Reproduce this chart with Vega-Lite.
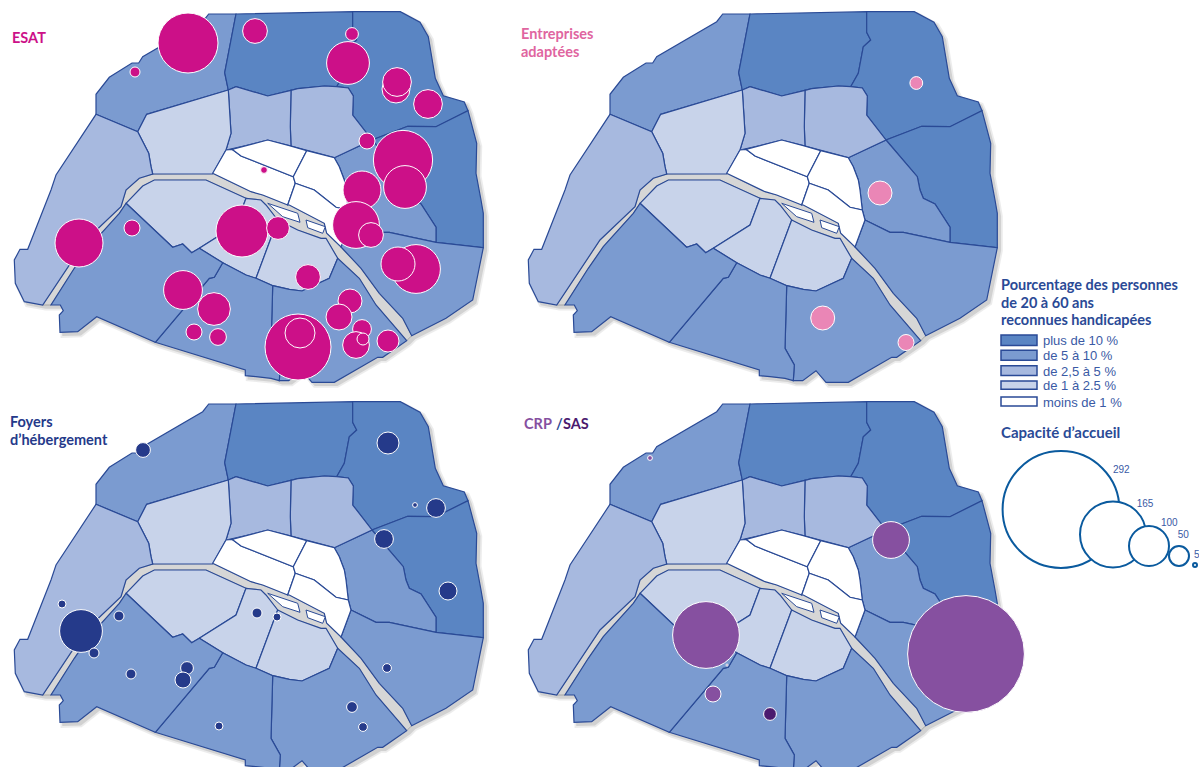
{"$schema":"https://vega.github.io/schema/vega-lite/v6.json","padding":0,"background":"white","config":{"view":{"stroke":null}},"bounds":"flush","spacing":0,"columns":2,
"datasets":{
"ombre":[{"type":"Feature","properties":{"nom":"ombre"},"geometry":{"type":"Polygon","coordinates":[[[211.7,17],[239,17],[355.7,14.7],[403.3,14.7],[423,25.3],[431.3,39.7],[438.3,81.3],[446.3,98.7],[467.3,105],[471,113.7],[479.7,146.3],[479,176.3],[484,203],[486.3,216.3],[486.3,250.7],[475.7,303],[449,321.3],[414.7,338.7],[409.7,343.7],[385.7,360.3],[380.7,360.3],[337.3,385.3],[315,385.3],[305,373.7],[291.7,383.7],[282.3,383.7],[274,381.3],[259,379.7],[248.3,378.7],[248.3,373],[158.3,345.3],[99.7,319.7],[80.7,334.7],[63,335.3],[62.3,318],[66.3,313.7],[63.3,308],[45.7,308],[27.3,304.7],[18.3,286.3],[17.3,263],[23,252.3],[30.7,252.3],[54,193],[59,178],[99,117.3],[99,97.3],[112.3,80.3],[135,66],[141.7,66],[145.7,59.7],[205.7,24.7],[211.7,17]]]}}],
"paris":[
{"type":"Feature","properties":{"arr":"17e","classe":"de 5 à 10 %"},"geometry":{"type":"Polygon","coordinates":[[[208.7,14],[236,14],[224.7,72.7],[228.3,90],[146.7,114.3],[137.7,131.7],[96,114.3],[96,94.3],[109.3,77.3],[132,63],[138.7,63],[142.7,56.7],[202.7,21.7],[208.7,14]]]}},
{"type":"Feature","properties":{"arr":"18e","classe":"plus de 10 %"},"geometry":{"type":"Polygon","coordinates":[[[236,14],[352.7,11.7],[352.7,32.3],[356.7,40],[349.3,46.7],[344.3,73.3],[336.7,86.7],[324.3,86],[297.7,88.7],[291,90.3],[267.7,96],[236,86.7],[228.3,90],[224.7,72.7],[236,14]]]}},
{"type":"Feature","properties":{"arr":"19e","classe":"plus de 10 %"},"geometry":{"type":"Polygon","coordinates":[[[352.7,11.7],[400.3,11.7],[420,22.3],[428.3,36.7],[435.3,78.3],[443.3,95.7],[464.3,102],[468,110.7],[436,126.7],[407.7,126.3],[372,140],[352.7,115],[353.3,96],[348.3,88],[336.7,86.7],[344.3,73.3],[349.3,46.7],[356.7,40],[352.7,32.3],[352.7,11.7]]]}},
{"type":"Feature","properties":{"arr":"20e","classe":"plus de 10 %"},"geometry":{"type":"Polygon","coordinates":[[[468,110.7],[476.7,143.3],[476,173.3],[481,200],[483.3,213.3],[483.3,247.7],[436,242.3],[436,227.3],[421,204],[409.3,198.3],[406,190],[403.3,176.7],[372,140],[407.7,126.3],[436,126.7],[468,110.7]]]}},
{"type":"Feature","properties":{"arr":"11e","classe":"de 5 à 10 %"},"geometry":{"type":"Polygon","coordinates":[[[334.3,157.7],[372,140],[403.3,176.7],[406,190],[409.3,198.3],[421,204],[436,227.3],[436,242.3],[389.3,232.3],[376,232.3],[351,220],[348.3,210],[346,190],[344.3,180],[339.3,166.7],[334.3,157.7]]]}},
{"type":"Feature","properties":{"arr":"12e","classe":"de 5 à 10 %"},"geometry":{"type":"Polygon","coordinates":[[[351,220],[376,232.3],[389.3,232.3],[436,242.3],[483.3,247.7],[472.7,300],[446,318.3],[411.7,335.7],[402.7,318.3],[379.3,293.3],[361,268.3],[341,247],[351,220]]]}},
{"type":"Feature","properties":{"arr":"10e","classe":"de 2,5 à 5 %"},"geometry":{"type":"Polygon","coordinates":[[[291,90.3],[297.7,88.7],[324.3,86],[336.7,86.7],[348.3,88],[353.3,96],[352.7,115],[372,140],[334.3,157.7],[291,146],[290.3,126.7],[291,90.3]]]}},
{"type":"Feature","properties":{"arr":"9e","classe":"de 2,5 à 5 %"},"geometry":{"type":"Polygon","coordinates":[[[228.3,90],[236,86.7],[267.7,96],[291,90.3],[290.3,126.7],[291,146],[267.7,140],[246,145.7],[226,150],[231,133.3],[228.3,90]]]}},
{"type":"Feature","properties":{"arr":"8e","classe":"de 1 à 2,5 %"},"geometry":{"type":"Polygon","coordinates":[[[146.7,114.3],[228.3,90],[231,133.3],[226,150],[212.7,174],[152.7,174],[151,166.7],[148.7,153.3],[137.7,131.7],[146.7,114.3]]]}},
{"type":"Feature","properties":{"arr":"16e","classe":"de 2,5 à 5 %"},"geometry":{"type":"Polygon","coordinates":[[[96,114.3],[137.7,131.7],[148.7,153.3],[151,166.7],[152.7,174],[139.3,178.3],[126,190],[121,206.7],[86,240],[42.7,305],[24.3,301.7],[15.3,283.3],[14.3,260],[20,249.3],[27.7,249.3],[51,190],[56,175],[96,114.3]]]}},
{"type":"Feature","properties":{"arr":"1er","classe":"moins de 1 %"},"geometry":{"type":"Polygon","coordinates":[[[226,150],[232,149.3],[241,156],[293.3,176.7],[295.3,183.3],[287.7,205],[262.7,195],[251,191.7],[212.7,173.3],[226,150]]]}},
{"type":"Feature","properties":{"arr":"2e","classe":"moins de 1 %"},"geometry":{"type":"Polygon","coordinates":[[[232,149.3],[267.7,140],[289.3,145.7],[306.7,150.7],[293.3,176.7],[241,156],[232,149.3]]]}},
{"type":"Feature","properties":{"arr":"3e","classe":"moins de 1 %"},"geometry":{"type":"Polygon","coordinates":[[[306.7,150.7],[334.3,157.7],[339.3,166.7],[344.3,180],[346,190],[348.3,210],[336,207.3],[314.3,190],[295.3,183.3],[293.3,176.7],[306.7,150.7]]]}},
{"type":"Feature","properties":{"arr":"4e","classe":"moins de 1 %"},"geometry":{"type":"Polygon","coordinates":[[[295.3,183.3],[314.3,190],[336,207.3],[348.3,210],[351,220],[341,247],[326.7,233.3],[324.3,223.3],[289.3,205],[287.7,205],[295.3,183.3]]]}},
{"type":"Feature","properties":{"arr":"7e","classe":"de 1 à 2,5 %"},"geometry":{"type":"Polygon","coordinates":[[[126,203.3],[142.7,186],[154.3,180],[206,180],[246,198.3],[236,225],[199.3,248.3],[191.7,252.7],[182.7,244],[172.7,247.3],[126,203.3]]]}},
{"type":"Feature","properties":{"arr":"6e","classe":"de 1 à 2,5 %"},"geometry":{"type":"Polygon","coordinates":[[[246,198.3],[261,200],[266,205],[277.7,220],[256,278.3],[246,275],[222.7,262.7],[199.3,248.3],[236,225],[246,198.3]]]}},
{"type":"Feature","properties":{"arr":"5e","classe":"de 1 à 2,5 %"},"geometry":{"type":"Polygon","coordinates":[[[277.7,220],[297.7,230],[321,238.3],[326,238.3],[337.7,258.3],[329.3,278.3],[302,291],[289.3,289.3],[272.7,285.7],[256,278.3],[277.7,220]]]}},
{"type":"Feature","properties":{"arr":"13e","classe":"de 5 à 10 %"},"geometry":{"type":"Polygon","coordinates":[[[272.7,285.7],[289.3,289.3],[302,291],[329.3,278.3],[337.7,258.3],[359.3,278.3],[376,305],[406.7,340.7],[382.7,357.3],[377.7,357.3],[334.3,382.3],[312,382.3],[302,370.7],[288.7,380.7],[279.3,380.7],[280.3,365],[271,348.3],[272.7,285.7]]]}},
{"type":"Feature","properties":{"arr":"14e","classe":"de 5 à 10 %"},"geometry":{"type":"Polygon","coordinates":[[[222.7,262.7],[246,275],[256,278.3],[272.7,285.7],[271,348.3],[280.3,365],[279.3,380.7],[271,378.3],[256,376.7],[245.3,375.7],[245.3,370],[155.3,342.3],[209.3,278.3],[214.3,277.3],[222.7,262.7]]]}},
{"type":"Feature","properties":{"arr":"15e","classe":"de 5 à 10 %"},"geometry":{"type":"Polygon","coordinates":[[[126,203.3],[172.7,247.3],[182.7,244],[191.7,252.7],[199.3,248.3],[222.7,262.7],[214.3,277.3],[209.3,278.3],[155.3,342.3],[96.7,316.7],[77.7,331.7],[60,332.3],[59.3,315],[63.3,310.7],[60.3,305],[51,305],[74.3,268.3],[89.3,246.7],[119.3,213.3],[126,203.3]]]}}
],
"seine":[{"type":"Feature","properties":{"nom":"Seine"},"geometry":{"type":"Polygon","coordinates":[[[42.7,305],[86,240],[121,206.7],[126,190],[139.3,178.3],[152.7,174],[212.7,173.3],[251,191.7],[262.7,195],[289.3,205],[324.3,223.3],[326.7,233.3],[341,247],[361,268.3],[379.3,293.3],[402.7,318.3],[411.7,335.7],[406.7,340.7],[376,305],[359.3,278.3],[337.7,258.3],[326,238.3],[321,238.3],[297.7,230],[277.7,220],[266,205],[261,200],[246,198.3],[206,180],[154.3,180],[142.7,186],[126,203.3],[119.3,213.3],[89.3,246.7],[74.3,268.3],[51,305],[42.7,305]]]}}],
"iles":[{"type":"Feature","properties":{"nom":"Cité"},"geometry":{"type":"Polygon","coordinates":[[[267.7,203.3],[297.7,213.3],[300,222.3],[282.7,216.7],[267.7,203.3]]]}},{"type":"Feature","properties":{"nom":"Saint-Louis"},"geometry":{"type":"Polygon","coordinates":[[[306,220],[325.3,226.7],[322.7,233.3],[307.7,227.7],[306,220]]]}}],
"legende1":[
{"type":"Feature","properties":{"classe":"plus de 10 %"},"geometry":{"type":"Polygon","coordinates":[[[487,335],[523,335],[523,345.5],[487,345.5],[487,335]]]}},
{"type":"Feature","properties":{"classe":"de 5 à 10 %"},"geometry":{"type":"Polygon","coordinates":[[[487,350.3],[523,350.3],[523,360.3],[487,360.3],[487,350.3]]]}},
{"type":"Feature","properties":{"classe":"de 2,5 à 5 %"},"geometry":{"type":"Polygon","coordinates":[[[487,365.8],[523,365.8],[523,375.5],[487,375.5],[487,365.8]]]}},
{"type":"Feature","properties":{"classe":"de 1 à 2,5 %"},"geometry":{"type":"Polygon","coordinates":[[[487,381],[523,381],[523,389.2],[487,389.2],[487,381]]]}}],
"legende2":[
{"type":"Feature","properties":{"classe":"moins de 1 %"},"geometry":{"type":"Polygon","coordinates":[[[487,7],[523,7],[523,16],[487,16],[487,7]]]}}]
},
"concat":[
{"width":514,"height":390,"layer":[
{"data":{"name":"ombre"},"mark":{"type":"geoshape","fill":"#777","opacity":0.13,"stroke":"#777","strokeWidth":5},"projection":{"type":"identity","scale":1,"translate":[0,0]}},
{"data":{"name":"ombre"},"mark":{"type":"geoshape","fill":"#777","opacity":0.22,"stroke":"#777","strokeWidth":1.5},"projection":{"type":"identity","scale":1,"translate":[0,0]}},
{"data":{"name":"seine"},"mark":{"type":"geoshape","fill":"#d6d6d6","stroke":"#9a9a9a","strokeWidth":0.8},"projection":{"type":"identity","scale":1,"translate":[0,0]}},
{"data":{"name":"paris"},"mark":{"type":"geoshape","stroke":"#2a4a96","strokeWidth":1.2},"projection":{"type":"identity","scale":1,"translate":[0,0]},"encoding":{"color":{"field":"properties.classe","type":"nominal","legend":null,"scale":{"domain":["plus de 10 %","de 5 à 10 %","de 2,5 à 5 %","de 1 à 2,5 %","moins de 1 %"],"range":["#5a85c3","#7b9bd0","#a7b9df","#c8d3ea","#ffffff"]}}}},
{"data":{"name":"iles"},"mark":{"type":"geoshape","fill":"#ffffff","stroke":"#2a4a96","strokeWidth":1},"projection":{"type":"identity","scale":1,"translate":[0,0]}},
{"data":{"values":[{"x":188,"y":43,"capacite":150},{"x":255,"y":31,"capacite":62},{"x":135,"y":72,"capacite":25},{"x":352,"y":34,"capacite":32},{"x":348,"y":63,"capacite":107},{"x":396,"y":89,"capacite":70},{"x":397,"y":82,"capacite":72},{"x":428,"y":104,"capacite":72},{"x":367,"y":141,"capacite":40},{"x":403,"y":160,"capacite":148},{"x":405,"y":187,"capacite":107},{"x":362,"y":190,"capacite":95},{"x":264,"y":170,"capacite":17},{"x":356,"y":225,"capacite":117},{"x":371,"y":235,"capacite":62},{"x":242,"y":231,"capacite":130},{"x":278,"y":228,"capacite":57},{"x":132,"y":228,"capacite":40},{"x":79,"y":243,"capacite":120},{"x":416,"y":269,"capacite":122},{"x":398,"y":264,"capacite":85},{"x":308,"y":277,"capacite":62},{"x":183,"y":290,"capacite":97},{"x":214,"y":309,"capacite":82},{"x":194,"y":332,"capacite":40},{"x":218,"y":337,"capacite":42},{"x":350,"y":301,"capacite":60},{"x":339,"y":317,"capacite":65},{"x":298,"y":347,"capacite":165},{"x":300,"y":333,"capacite":75},{"x":362,"y":329,"capacite":47},{"x":356,"y":345,"capacite":67},{"x":363,"y":339,"capacite":30},{"x":388,"y":341,"capacite":55}]},"mark":{"type":"point","shape":"circle","filled":true,"opacity":1,"fill":"#cc1088","stroke":"#ffffff","strokeWidth":1},"projection":{"type":"identity","scale":1,"translate":[0,0]},"encoding":{"longitude":{"field":"x","type":"quantitative"},"latitude":{"field":"y","type":"quantitative"},"size":{"field":"capacite","type":"quantitative","legend":null,"scale":{"type":"pow","exponent":2,"domain":[0,292],"range":[0,13642]}}}},
{"data":{"values":[{"x":12,"y":43,"t":"ESAT"}]},"mark":{"type":"text","font":"Lato","fontWeight":"bold","fontSize":14.5,"align":"left","baseline":"alphabetic","color":"#cc1088"},"projection":{"type":"identity","scale":1,"translate":[0,0]},"encoding":{"longitude":{"field":"x","type":"quantitative"},"latitude":{"field":"y","type":"quantitative"},"text":{"field":"t"}}}
]},
{"width":685,"height":390,"layer":[
{"data":{"name":"ombre"},"mark":{"type":"geoshape","fill":"#777","opacity":0.13,"stroke":"#777","strokeWidth":5},"projection":{"type":"identity","scale":1,"translate":[0,0]}},
{"data":{"name":"ombre"},"mark":{"type":"geoshape","fill":"#777","opacity":0.22,"stroke":"#777","strokeWidth":1.5},"projection":{"type":"identity","scale":1,"translate":[0,0]}},
{"data":{"name":"seine"},"mark":{"type":"geoshape","fill":"#d6d6d6","stroke":"#9a9a9a","strokeWidth":0.8},"projection":{"type":"identity","scale":1,"translate":[0,0]}},
{"data":{"name":"paris"},"mark":{"type":"geoshape","stroke":"#2a4a96","strokeWidth":1.2},"projection":{"type":"identity","scale":1,"translate":[0,0]},"encoding":{"color":{"field":"properties.classe","type":"nominal","legend":null,"scale":{"domain":["plus de 10 %","de 5 à 10 %","de 2,5 à 5 %","de 1 à 2,5 %","moins de 1 %"],"range":["#5a85c3","#7b9bd0","#a7b9df","#c8d3ea","#ffffff"]}}}},
{"data":{"name":"legende1"},"mark":{"type":"geoshape","stroke":"#2a4a96","strokeWidth":1.5},"projection":{"type":"identity","scale":1,"translate":[0,0]},"encoding":{"color":{"field":"properties.classe","type":"nominal","legend":null,"scale":{"domain":["plus de 10 %","de 5 à 10 %","de 2,5 à 5 %","de 1 à 2,5 %","moins de 1 %"],"range":["#5a85c3","#7b9bd0","#a7b9df","#c8d3ea","#ffffff"]}}}},
{"data":{"name":"iles"},"mark":{"type":"geoshape","fill":"#ffffff","stroke":"#2a4a96","strokeWidth":1},"projection":{"type":"identity","scale":1,"translate":[0,0]}},
{"data":{"values":[{"x":402.3,"y":83,"capacite":32},{"x":366,"y":193,"capacite":60},{"x":308.7,"y":318,"capacite":60},{"x":392,"y":342.5,"capacite":40}]},"mark":{"type":"point","shape":"circle","filled":true,"opacity":1,"fill":"#ea86b6","stroke":"#ffffff","strokeWidth":1},"projection":{"type":"identity","scale":1,"translate":[0,0]},"encoding":{"longitude":{"field":"x","type":"quantitative"},"latitude":{"field":"y","type":"quantitative"},"size":{"field":"capacite","type":"quantitative","legend":null,"scale":{"type":"pow","exponent":2,"domain":[0,292],"range":[0,13642]}}}},
{"data":{"values":[{"x":7,"y":39,"t":"Entreprises"},{"x":7,"y":57,"t":"adaptées"}]},"mark":{"type":"text","font":"Lato","fontWeight":"bold","fontSize":14.5,"align":"left","baseline":"alphabetic","color":"#e0659f"},"projection":{"type":"identity","scale":1,"translate":[0,0]},"encoding":{"longitude":{"field":"x","type":"quantitative"},"latitude":{"field":"y","type":"quantitative"},"text":{"field":"t"}}},
{"data":{"values":[{"x":487,"y":290,"t":"Pourcentage des personnes"},{"x":487,"y":307.7,"t":"de 20 à 60 ans"},{"x":487,"y":325,"t":"reconnues handicapées"}]},"mark":{"type":"text","font":"Lato","fontWeight":"bold","fontSize":14.5,"align":"left","baseline":"alphabetic","color":"#2a4a96"},"projection":{"type":"identity","scale":1,"translate":[0,0]},"encoding":{"longitude":{"field":"x","type":"quantitative"},"latitude":{"field":"y","type":"quantitative"},"text":{"field":"t"}}},
{"data":{"values":[{"x":529,"y":345,"t":"plus de 10 %"},{"x":529,"y":360.4,"t":"de 5 à 10 %"},{"x":529,"y":375.7,"t":"de 2,5 à 5 %"},{"x":529,"y":389.6,"t":"de 1 à 2,5 %"}]},"mark":{"type":"text","font":"Liberation Sans","fontSize":13,"align":"left","baseline":"alphabetic","color":"#3a5aa5"},"projection":{"type":"identity","scale":1,"translate":[0,0]},"encoding":{"longitude":{"field":"x","type":"quantitative"},"latitude":{"field":"y","type":"quantitative"},"text":{"field":"t"}}}
]},
{"width":514,"height":377,"layer":[
{"data":{"name":"ombre"},"mark":{"type":"geoshape","clip":true,"fill":"#777","opacity":0.13,"stroke":"#777","strokeWidth":5},"projection":{"type":"identity","scale":1,"translate":[0,0]}},
{"data":{"name":"ombre"},"mark":{"type":"geoshape","clip":true,"fill":"#777","opacity":0.22,"stroke":"#777","strokeWidth":1.5},"projection":{"type":"identity","scale":1,"translate":[0,0]}},
{"data":{"name":"seine"},"mark":{"type":"geoshape","fill":"#d6d6d6","stroke":"#9a9a9a","strokeWidth":0.8},"projection":{"type":"identity","scale":1,"translate":[0,0]}},
{"data":{"name":"paris"},"mark":{"type":"geoshape","clip":true,"stroke":"#2a4a96","strokeWidth":1.2},"projection":{"type":"identity","scale":1,"translate":[0,0]},"encoding":{"color":{"field":"properties.classe","type":"nominal","legend":null,"scale":{"domain":["plus de 10 %","de 5 à 10 %","de 2,5 à 5 %","de 1 à 2,5 %","moins de 1 %"],"range":["#5a85c3","#7b9bd0","#a7b9df","#c8d3ea","#ffffff"]}}}},
{"data":{"name":"iles"},"mark":{"type":"geoshape","fill":"#ffffff","stroke":"#2a4a96","strokeWidth":1},"projection":{"type":"identity","scale":1,"translate":[0,0]}},
{"data":{"values":[{"x":143,"y":60,"capacite":37},{"x":388,"y":53,"capacite":55},{"x":415,"y":115,"capacite":12},{"x":436,"y":118,"capacite":47},{"x":384,"y":149,"capacite":47},{"x":448,"y":201,"capacite":45},{"x":62,"y":214,"capacite":20},{"x":119,"y":226,"capacite":25},{"x":81,"y":241,"capacite":107},{"x":94,"y":263,"capacite":25},{"x":257,"y":223,"capacite":25},{"x":277,"y":227,"capacite":20},{"x":187,"y":278,"capacite":32},{"x":183,"y":290,"capacite":40},{"x":131,"y":284,"capacite":25},{"x":387,"y":278,"capacite":22},{"x":352,"y":317,"capacite":27},{"x":363,"y":337,"capacite":22},{"x":219,"y":336,"capacite":20}]},"mark":{"type":"point","shape":"circle","filled":true,"opacity":1,"fill":"#253a8a","stroke":"#ffffff","strokeWidth":1},"projection":{"type":"identity","scale":1,"translate":[0,0]},"encoding":{"longitude":{"field":"x","type":"quantitative"},"latitude":{"field":"y","type":"quantitative"},"size":{"field":"capacite","type":"quantitative","legend":null,"scale":{"type":"pow","exponent":2,"domain":[0,292],"range":[0,13642]}}}},
{"data":{"values":[{"x":10,"y":37,"t":"Foyers"},{"x":10,"y":55,"t":"d’hébergement"}]},"mark":{"type":"text","font":"Lato","fontWeight":"bold","fontSize":14.5,"align":"left","baseline":"alphabetic","color":"#253a8a"},"projection":{"type":"identity","scale":1,"translate":[0,0]},"encoding":{"longitude":{"field":"x","type":"quantitative"},"latitude":{"field":"y","type":"quantitative"},"text":{"field":"t"}}}
]},
{"width":685,"height":377,"layer":[
{"data":{"name":"ombre"},"mark":{"type":"geoshape","clip":true,"fill":"#777","opacity":0.13,"stroke":"#777","strokeWidth":5},"projection":{"type":"identity","scale":1,"translate":[0,0]}},
{"data":{"name":"ombre"},"mark":{"type":"geoshape","clip":true,"fill":"#777","opacity":0.22,"stroke":"#777","strokeWidth":1.5},"projection":{"type":"identity","scale":1,"translate":[0,0]}},
{"data":{"name":"seine"},"mark":{"type":"geoshape","fill":"#d6d6d6","stroke":"#9a9a9a","strokeWidth":0.8},"projection":{"type":"identity","scale":1,"translate":[0,0]}},
{"data":{"name":"paris"},"mark":{"type":"geoshape","clip":true,"stroke":"#2a4a96","strokeWidth":1.2},"projection":{"type":"identity","scale":1,"translate":[0,0]},"encoding":{"color":{"field":"properties.classe","type":"nominal","legend":null,"scale":{"domain":["plus de 10 %","de 5 à 10 %","de 2,5 à 5 %","de 1 à 2,5 %","moins de 1 %"],"range":["#5a85c3","#7b9bd0","#a7b9df","#c8d3ea","#ffffff"]}}}},
{"data":{"name":"legende2"},"mark":{"type":"geoshape","stroke":"#2a4a96","strokeWidth":1.5},"projection":{"type":"identity","scale":1,"translate":[0,0]},"encoding":{"color":{"field":"properties.classe","type":"nominal","legend":null,"scale":{"domain":["plus de 10 %","de 5 à 10 %","de 2,5 à 5 %","de 1 à 2,5 %","moins de 1 %"],"range":["#5a85c3","#7b9bd0","#a7b9df","#c8d3ea","#ffffff"]}}}},
{"data":{"name":"iles"},"mark":{"type":"geoshape","fill":"#ffffff","stroke":"#2a4a96","strokeWidth":1},"projection":{"type":"identity","scale":1,"translate":[0,0]}},
{"data":{"values":[{"x":136,"y":68,"capacite":12,"type":"CRP"},{"x":377,"y":150,"capacite":92,"type":"CRP"},{"x":192,"y":245,"capacite":167,"type":"CRP"},{"x":452,"y":264,"capacite":292,"type":"CRP"},{"x":199,"y":304,"capacite":40,"type":"CRP"},{"x":256,"y":324,"capacite":32,"type":"SAS"},{"x":213,"y":275,"capacite":5,"type":"SAS"}]},"mark":{"type":"point","shape":"circle","filled":true,"opacity":1,"stroke":"#ffffff","strokeWidth":1},"projection":{"type":"identity","scale":1,"translate":[0,0]},"encoding":{"longitude":{"field":"x","type":"quantitative"},"latitude":{"field":"y","type":"quantitative"},"size":{"field":"capacite","type":"quantitative","legend":null,"scale":{"type":"pow","exponent":2,"domain":[0,292],"range":[0,13642]}},"fill":{"field":"type","type":"nominal","legend":null,"scale":{"domain":["CRP","barre","SAS"],"range":["#8650a0","#2a4a96","#4b1a6e"]}}}},
{"data":{"values":[{"x":547,"y":119.5,"capacite":292},{"x":599,"y":144.5,"capacite":165},{"x":635,"y":156,"capacite":100},{"x":665,"y":166,"capacite":50},{"x":681,"y":175,"capacite":10}]},"mark":{"type":"point","shape":"circle","filled":true,"opacity":1,"fill":"#ffffff","stroke":"#0a5a9e","strokeWidth":2},"projection":{"type":"identity","scale":1,"translate":[0,0]},"encoding":{"longitude":{"field":"x","type":"quantitative"},"latitude":{"field":"y","type":"quantitative"},"size":{"field":"capacite","type":"quantitative","legend":null,"scale":{"type":"pow","exponent":2,"domain":[0,292],"range":[0,13642]}},"order":{"field":"capacite","sort":"descending"}}},
{"data":{"values":[{"x":599,"y":82.7,"t":"292"},{"x":622.7,"y":117,"t":"165"},{"x":647,"y":136,"t":"100"},{"x":663.7,"y":148,"t":"50"},{"x":680,"y":168,"t":"5"}]},"mark":{"type":"text","font":"Liberation Sans","fontSize":10,"align":"left","baseline":"alphabetic","color":"#3a5aa5"},"projection":{"type":"identity","scale":1,"translate":[0,0]},"encoding":{"longitude":{"field":"x","type":"quantitative"},"latitude":{"field":"y","type":"quantitative"},"text":{"field":"t"}}},
{"data":{"values":[{"x":529,"y":16.7,"t":"moins de 1 %"}]},"mark":{"type":"text","font":"Liberation Sans","fontSize":13,"align":"left","baseline":"alphabetic","color":"#3a5aa5"},"projection":{"type":"identity","scale":1,"translate":[0,0]},"encoding":{"longitude":{"field":"x","type":"quantitative"},"latitude":{"field":"y","type":"quantitative"},"text":{"field":"t"}}},
{"data":{"values":[{"x":487,"y":48,"t":"Capacité d’accueil"}]},"mark":{"type":"text","font":"Lato","fontWeight":"bold","fontSize":15,"align":"left","baseline":"alphabetic","color":"#2a4a96"},"projection":{"type":"identity","scale":1,"translate":[0,0]},"encoding":{"longitude":{"field":"x","type":"quantitative"},"latitude":{"field":"y","type":"quantitative"},"text":{"field":"t"}}},
{"data":{"values":[{"x":10,"y":39,"t":"CRP","type":"CRP"},{"x":42,"y":39,"t":"/","type":"barre"},{"x":49,"y":39,"t":"SAS","type":"SAS"}]},"mark":{"type":"text","font":"Lato","fontWeight":"bold","fontSize":14.5,"align":"left","baseline":"alphabetic"},"projection":{"type":"identity","scale":1,"translate":[0,0]},"encoding":{"longitude":{"field":"x","type":"quantitative"},"latitude":{"field":"y","type":"quantitative"},"text":{"field":"t"},"fill":{"field":"type","type":"nominal","legend":null,"scale":{"domain":["CRP","barre","SAS"],"range":["#8650a0","#2a4a96","#4b1a6e"]}}}}
]}
]}
